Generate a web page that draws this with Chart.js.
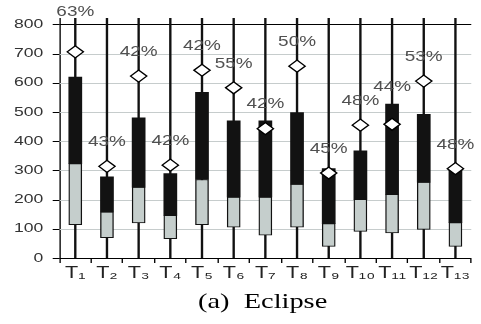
<!DOCTYPE html>
<html><head><meta charset="utf-8">
<script src="https://cdn.jsdelivr.net/npm/chart.js@4"></script>
<style>
html,body{margin:0;padding:0;background:#fff;}
#c{position:absolute;left:0;top:0;}
</style></head><body>
<canvas id="c" width="356" height="324" style="width:481px;height:324px"></canvas>
<script>
const categories = ['T\u2081','T\u2082','T\u2083','T\u2084','T\u2085','T\u2086','T\u2087','T\u2088','T\u2089','T\u2081\u2080','T\u2081\u2081','T\u2081\u2082','T\u2081\u2083'];
const whiskerLow  = [0,0,0,0,0,0,0,0,0,0,0,0,0];
const whiskerHigh = [825,825,825,825,825,825,825,825,825,825,825,825,825];
const q1Vals     = [114, 70, 120, 66, 114, 106, 78, 106, 40, 91, 86, 98, 40];
const medianVals = [323, 158, 243, 146, 269, 209, 209, 253, 118, 201, 218, 260, 121];
const q3Vals     = [620, 278, 480, 289, 567, 470, 470, 498, 306, 367, 527, 492, 303];
const meanVals   = [706, 314, 623, 318, 643, 583, 443, 657, 291, 455, 458, 606, 306];
const pctVals    = [63, 43, 42, 42, 42, 55, 42, 50, 45, 48, 44, 53, 48];
const yTickStep  = 100;
const yTopTick   = 800;
const captionText = '(a)  Eclipse';

const OUT_W = 481, LAYOUT_W = 356, SX = OUT_W / LAYOUT_W;

const stretchPlugin = { id:'stretch', beforeDraw(chart){ chart.ctx.setTransform(SX,0,0,1,0,0); } };

const gridPlugin = {
  id:'ygrid',
  beforeDatasetsDraw(chart){
    const {ctx, chartArea:a, scales:{y}} = chart;
    ctx.save();
    y.ticks.forEach(t=>{
      const row = Math.round(y.getPixelForValue(t.value));
      if (t.value !== 0) {
        ctx.fillStyle = t.value === yTopTick ? '#000' : '#c6cccc';
        ctx.fillRect(a.left, row, a.right - a.left, 1);
      }
      ctx.fillStyle = '#000';
      ctx.fillRect(a.left - 5, row, 5, 1);
    });
    ctx.restore();
  }
};

const pctPlugin = {
  id:'pct',
  afterDatasetsDraw(chart){
    const {ctx, scales:{x,y}} = chart;
    ctx.save();
    ctx.font = '14px "Liberation Sans", Arial, sans-serif';
    ctx.fillStyle = '#505050';
    ctx.textAlign='center'; ctx.textBaseline='middle';
    const topLine = y.getPixelForValue(yTopTick);
    categories.forEach((c,i)=>{
      const px = x.getPixelForValue(i);
      const dTop = y.getPixelForValue(meanVals[i]) - 7;
      const bTop = y.getPixelForValue(q3Vals[i]);
      let py = Math.min(dTop,bTop) - 17;
      if (Math.abs(py - topLine) < 9) py = topLine - 12;
      ctx.fillText(pctVals[i]+'%', px, py);
    });
    ctx.restore();
  },
  afterDraw(chart){
    const {ctx, chartArea:a} = chart;
    ctx.save();
    ctx.font = '21px "Liberation Serif", "Times New Roman", serif';
    ctx.fillStyle = '#000';
    ctx.textAlign = 'center'; ctx.textBaseline = 'alphabetic';
    ctx.fillText(captionText, (a.left + a.right)/2 - 2, 308);
    ctx.restore();
  }
};

Chart.defaults.font.family = '"Liberation Sans", Arial, sans-serif';
const canvas = document.getElementById('c');
const chart = new Chart(canvas, {
  type:'bar',
  data:{
    labels: categories,
    datasets:[
      {type:'line', data: meanVals, showLine:false, pointStyle:'rectRot', pointRadius:6, pointHoverRadius:6,
       pointBackgroundColor:'#fff', pointBorderColor:'#000', pointBorderWidth:1.2, order:0},
      {data: medianVals.map((m,i)=>[m,q3Vals[i]]), backgroundColor:'#121212', borderWidth:0,
       barThickness:9.5, grouped:false, order:1},
      {data: q1Vals.map((q,i)=>[q,medianVals[i]]), backgroundColor:'#c5cecc', borderColor:'#111', borderWidth:1,
       borderSkipped:false, barThickness:9.5, grouped:false, order:2},
      {data: whiskerLow.map((w,i)=>[w,whiskerHigh[i]]), backgroundColor:'#111', borderWidth:0,
       barThickness:1.1, grouped:false, order:3}
    ]
  },
  options:{
    responsive:false, animation:false, events:[],
    layout:{padding:{top:18,left:0,right:0,bottom:0}},
    plugins:{legend:{display:false}, tooltip:{enabled:false}, title:{display:false}},
    scales:{
      x:{
        afterFit(s){ s.height = 66; s.paddingLeft = 0; s.paddingRight = 0; },
        grid:{drawOnChartArea:false, drawTicks:true, tickLength:5, tickColor:'#000', offset:true},
        border:{display:true, color:'#000', width:1},
        ticks:{font:{size:16}, color:'#222', padding:1, maxRotation:0, autoSkip:false}
      },
      y:{
        min:0, max:822,
        afterFit(s){ s.width = 44; s.paddingTop = 0; s.paddingBottom = 0; },
        grid:{display:false, drawTicks:false},
        border:{display:true, color:'#000', width:1},
        ticks:{stepSize:yTickStep, includeBounds:false, font:{size:13}, color:'#333', padding:12}
      }
    }
  },
  plugins:[stretchPlugin, gridPlugin, pctPlugin]
});
canvas.width = OUT_W;
canvas.style.width = OUT_W + 'px';
chart.draw();
</script>
</body></html>
